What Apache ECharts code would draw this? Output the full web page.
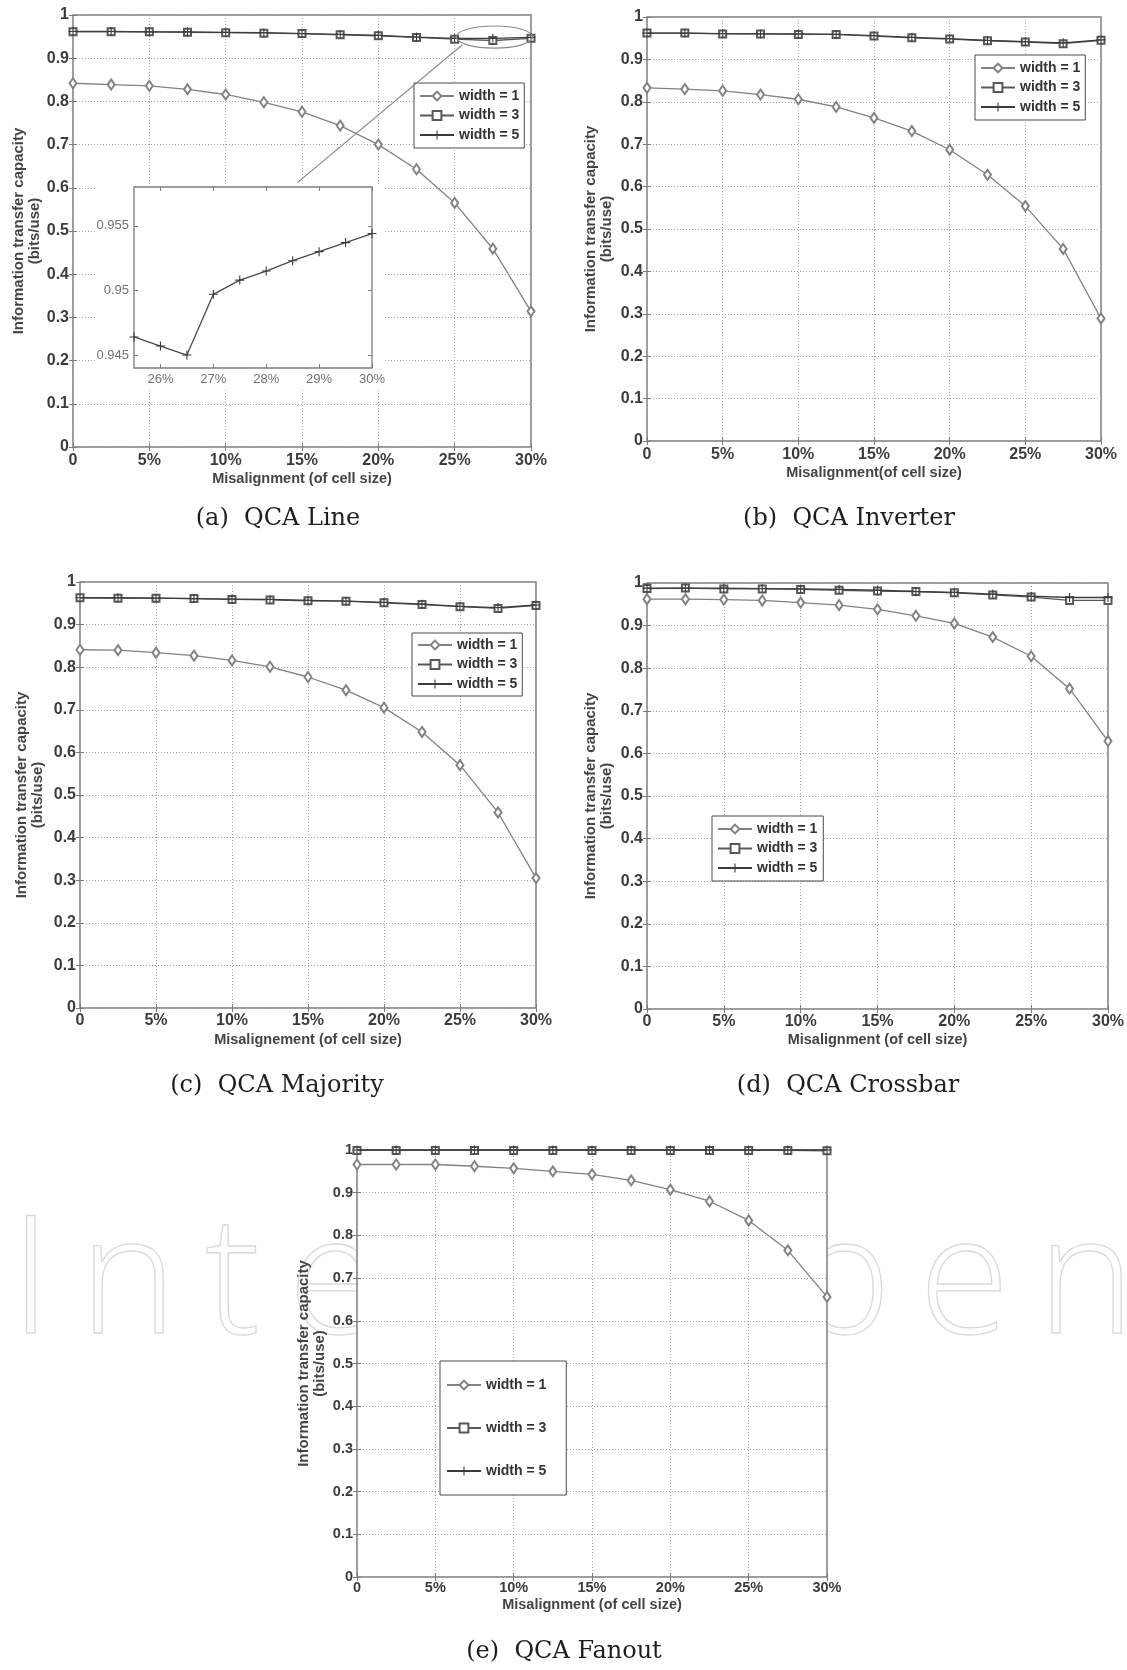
<!DOCTYPE html>
<html>
<head>
<meta charset="utf-8">
<title>QCA information transfer capacity vs misalignment</title>
<script src="https://cdn.jsdelivr.net/npm/echarts@6.0.0/dist/echarts.min.js"></script>
<style>
html,body{margin:0;padding:0;background:#fff;}
#chart{width:1127px;height:1670px;}
</style>
</head>
<body>
<div id="chart"></div>
<script>
// ---------------- data ----------------
const misalignment = [0, 2.5, 5, 7.5, 10, 12.5, 15, 17.5, 20, 22.5, 25, 27.5, 30];
const xTickValues = [0, 5, 10, 15, 20, 25, 30];
const seriesNames = ['width = 1', 'width = 3', 'width = 5'];

// (a) QCA Line
const lineW1 = [0.842, 0.839, 0.836, 0.828, 0.816, 0.798, 0.776, 0.744, 0.700, 0.643, 0.565, 0.459, 0.314];
const lineW3 = [0.961, 0.961, 0.961, 0.960, 0.959, 0.958, 0.957, 0.954, 0.952, 0.948, 0.944, 0.941, 0.946];
const lineW5 = [0.962, 0.962, 0.961, 0.961, 0.960, 0.959, 0.957, 0.955, 0.953, 0.949, 0.946, 0.946, 0.948];
// (b) QCA Inverter
const inverterW1 = [0.833, 0.830, 0.826, 0.817, 0.806, 0.788, 0.762, 0.731, 0.687, 0.628, 0.554, 0.453, 0.289];
const inverterW3 = [0.962, 0.962, 0.960, 0.960, 0.959, 0.959, 0.955, 0.951, 0.948, 0.944, 0.941, 0.937, 0.945];
const inverterW5 = [0.962, 0.962, 0.961, 0.960, 0.960, 0.959, 0.956, 0.952, 0.949, 0.945, 0.942, 0.939, 0.946];
// (c) QCA Majority
const majorityW1 = [0.841, 0.840, 0.834, 0.827, 0.816, 0.801, 0.777, 0.746, 0.705, 0.648, 0.570, 0.459, 0.305];
const majorityW3 = [0.963, 0.962, 0.962, 0.961, 0.959, 0.958, 0.956, 0.955, 0.951, 0.947, 0.942, 0.938, 0.945];
const majorityW5 = [0.963, 0.963, 0.962, 0.961, 0.960, 0.959, 0.957, 0.955, 0.952, 0.948, 0.943, 0.940, 0.946];
// (d) QCA Crossbar
const crossbarW1 = [0.962, 0.962, 0.961, 0.959, 0.954, 0.948, 0.938, 0.923, 0.905, 0.873, 0.828, 0.752, 0.629];
const crossbarW3 = [0.987, 0.988, 0.986, 0.986, 0.985, 0.983, 0.981, 0.980, 0.977, 0.972, 0.967, 0.959, 0.959];
const crossbarW5 = [0.988, 0.988, 0.988, 0.987, 0.986, 0.985, 0.983, 0.980, 0.978, 0.974, 0.969, 0.966, 0.966];
// (e) QCA Fanout
const fanoutW1 = [0.966, 0.966, 0.966, 0.962, 0.957, 0.950, 0.943, 0.929, 0.907, 0.880, 0.835, 0.765, 0.656];
const fanoutW3 = [0.999, 0.999, 0.999, 0.999, 0.999, 0.999, 0.999, 0.999, 0.999, 0.999, 0.999, 0.999, 0.998];
const fanoutW5 = [1.000, 1.000, 1.000, 1.000, 1.000, 1.000, 1.000, 1.000, 1.000, 1.000, 1.000, 1.000, 1.000];

// inset of (a): zoom on width = 5 between 25.5% and 30%
const insetMisalignment = [25.5, 26, 26.5, 27, 27.5, 28, 28.5, 29, 29.5, 30];
const insetW5 = [0.9464, 0.9457, 0.9450, 0.9497, 0.9508, 0.9515, 0.9523, 0.9530, 0.9537, 0.9544];
const insetXTicks = [26, 27, 28, 29, 30];
const insetYTicks = [0.945, 0.95, 0.955];

const captions = ['(a)  QCA Line', '(b)  QCA Inverter', '(c)  QCA Majority', '(d)  QCA Crossbar', '(e)  QCA Fanout'];
const xTitles = ['Misalignment (of cell size)', 'Misalignment(of cell size)', 'Misalignement (of cell size)',
                 'Misalignment (of cell size)', 'Misalignment (of cell size)'];
const yTitle = 'Information transfer capacity\n(bits/use)';

// ---------------- styling / layout ----------------
const FONT = '"Liberation Sans", Arial, Helvetica, sans-serif';
const FRAME = '#7c7c7c';
const GRIDC = '#a6a6a6';
const LABELC = '#3c3c3c';
const seriesColors = ['#828282', '#585858', '#3c3c3c'];
const plusPath = 'path://M4.4,0H5.6V4.4H10V5.6H5.6V10H4.4V5.6H0V4.4H4.4Z';
const seriesSymbols = ['emptyDiamond', 'emptyRect', plusPath];
const seriesSymbolSizes = [[7, 10], 7, 9];

const panels = [
  { values: [lineW1, lineW3, lineW5], rect: {left: 73, top: 15, width: 458, height: 432},
    tick: 16, labelMargin: 6, xGap: 24, yGap: 29,
    legend: {left: 414, top: 83, padding: [6, 5, 6, 5], itemGap: 5.5}, caption: [278, 519] },
  { values: [inverterW1, inverterW3, inverterW5], rect: {left: 647, top: 17, width: 454, height: 424},
    tick: 16, labelMargin: 6, xGap: 24, yGap: 32,
    legend: {left: 975, top: 55, padding: [6, 5, 6, 5], itemGap: 5.5}, caption: [849, 519] },
  { values: [majorityW1, majorityW3, majorityW5], rect: {left: 80, top: 582, width: 456, height: 426},
    tick: 16, labelMargin: 5, xGap: 24, yGap: 34,
    legend: {left: 412, top: 633, padding: [5, 5, 5, 5], itemGap: 5.5}, caption: [277, 1086] },
  { values: [crossbarW1, crossbarW3, crossbarW5], rect: {left: 647, top: 583, width: 461, height: 426},
    tick: 16, labelMargin: 5, xGap: 23, yGap: 32,
    legend: {left: 712, top: 816, padding: [6, 6, 6, 5], itemGap: 5.5}, caption: [848, 1086] },
  { values: [fanoutW1, fanoutW3, fanoutW5], rect: {left: 357, top: 1150, width: 470, height: 427},
    tick: 14.5, labelMargin: 3, xGap: 20, yGap: 29,
    legend: {left: 440, top: 1361, padding: [17, 20, 17, 6], itemGap: 29}, caption: [564, 1652] }
];
const insetRect = {left: 134, top: 187, width: 238, height: 181};

// ---------------- build option ----------------
const grids = [], xAxes = [], yAxes = [], series = [], legends = [], graphics = [];

function tickStyle() {
  return {show: true, inside: true, length: 4, lineStyle: {color: FRAME, width: 1}};
}

panels.forEach((p, i) => {
  grids.push(Object.assign({show: true, backgroundColor: '#ffffff', borderColor: FRAME, borderWidth: 1.5}, p.rect));
  xAxes.push({
    gridIndex: i, type: 'value', position: 'bottom', min: 0, max: 30, interval: 5,
    axisLine: {show: false}, axisTick: tickStyle(),
    axisLabel: {margin: p.labelMargin, fontSize: p.tick, fontWeight: 'bold', color: LABELC, fontFamily: FONT,
                formatter: v => (v === 0 ? '0' : v + '%')},
    splitLine: {show: true, lineStyle: {color: GRIDC, width: 1, type: [1, 2]}},
    name: xTitles[i], nameLocation: 'middle', nameGap: p.xGap,
    nameTextStyle: {fontSize: 14.5, fontWeight: 'bold', color: '#444', fontFamily: FONT, verticalAlign: 'top'}
  });
  xAxes.push({
    gridIndex: i, type: 'value', position: 'top', min: 0, max: 30, interval: 5,
    axisLine: {show: false}, axisTick: tickStyle(), axisLabel: {show: false}, splitLine: {show: false}
  });
  yAxes.push({
    gridIndex: i, type: 'value', position: 'left', min: 0, max: 1, interval: 0.1,
    axisLine: {show: false}, axisTick: tickStyle(),
    axisLabel: {margin: 4, fontSize: p.tick, fontWeight: 'bold', color: LABELC, fontFamily: FONT},
    splitLine: {show: true, lineStyle: {color: GRIDC, width: 1, type: [1, 2]}},
    name: yTitle, nameLocation: 'middle', nameGap: p.yGap, nameRotate: 90,
    nameTextStyle: {fontSize: 15, fontWeight: 'bold', lineHeight: 16, color: '#444', fontFamily: FONT, align: 'center'}
  });
  yAxes.push({
    gridIndex: i, type: 'value', position: 'right', min: 0, max: 1, interval: 0.1,
    axisLine: {show: false}, axisTick: tickStyle(), axisLabel: {show: false}, splitLine: {show: false}
  });
  p.values.forEach((vals, j) => {
    series.push({
      type: 'line', name: seriesNames[j], xAxisIndex: 2 * i, yAxisIndex: 2 * i,
      data: misalignment.map((x, k) => [x, vals[k]]),
      symbol: seriesSymbols[j], symbolSize: seriesSymbolSizes[j], showSymbol: true,
      lineStyle: {color: seriesColors[j], width: 1.3},
      itemStyle: {color: seriesColors[j], borderColor: seriesColors[j], borderWidth: j === 2 ? 0 : 1.2},
      z: 2 + j, silent: true, animation: false, clip: false
    });
  });
  legends.push(Object.assign({
    show: true, data: seriesNames, orient: 'vertical', itemWidth: 34, itemHeight: 11,
    backgroundColor: '#ffffff', borderColor: '#4a4a4a', borderWidth: 1, borderRadius: 0,
    textStyle: {fontSize: 14, fontWeight: 'bold', color: '#333', fontFamily: FONT}, selectedMode: false, z: 6
  }, p.legend));
  graphics.push({
    type: 'text', x: p.caption[0], y: p.caption[1], z: 20,
    style: {text: captions[i], fill: '#1e1e1e', font: '24px "DejaVu Serif", serif',
            textAlign: 'center', textVerticalAlign: 'middle'}
  });
});

// inset axes (grid index 5)
grids.push(Object.assign({show: true, backgroundColor: '#ffffff', borderColor: FRAME, borderWidth: 1.3, z: 10}, insetRect));
const insetLabel = {fontSize: 13, color: '#727272', fontFamily: FONT};
xAxes.push({
  gridIndex: 5, type: 'value', position: 'bottom', min: 25.5, max: 30, z: 11,
  axisLine: {show: false},
  axisTick: {show: true, inside: true, length: 4, customValues: insetXTicks, lineStyle: {color: FRAME}},
  axisLabel: Object.assign({margin: 5, customValues: insetXTicks, formatter: v => v + '%'}, insetLabel),
  splitLine: {show: false}
});
xAxes.push({
  gridIndex: 5, type: 'value', position: 'top', min: 25.5, max: 30, z: 11,
  axisLine: {show: false},
  axisTick: {show: true, inside: true, length: 4, customValues: insetXTicks, lineStyle: {color: FRAME}},
  axisLabel: {show: false}, splitLine: {show: false}
});
yAxes.push({
  gridIndex: 5, type: 'value', position: 'left', min: 0.944, max: 0.958, z: 11,
  axisLine: {show: false},
  axisTick: {show: true, inside: true, length: 4, customValues: insetYTicks, lineStyle: {color: FRAME}},
  axisLabel: Object.assign({margin: 5, customValues: insetYTicks, formatter: v => String(+v.toFixed(3))}, insetLabel),
  splitLine: {show: false}
});
yAxes.push({
  gridIndex: 5, type: 'value', position: 'right', min: 0.944, max: 0.958, z: 11,
  axisLine: {show: false},
  axisTick: {show: true, inside: true, length: 4, customValues: insetYTicks, lineStyle: {color: FRAME}},
  axisLabel: {show: false}, splitLine: {show: false}
});
series.push({
  type: 'line', name: 'width = 5 (zoom)', xAxisIndex: 10, yAxisIndex: 10,
  data: insetMisalignment.map((x, k) => [x, insetW5[k]]),
  symbol: plusPath, symbolSize: 9, showSymbol: true,
  lineStyle: {color: '#4a4a4a', width: 1.3}, itemStyle: {color: '#3a3a3a', borderWidth: 0},
  z: 12, silent: true, animation: false
});

// white backing of the inset (covers the main grid under the inset and its labels)
graphics.push({
  type: 'rect', z: 9, silent: true,
  shape: {x: insetRect.left - 39, y: insetRect.top - 2, width: insetRect.width + 51, height: insetRect.height + 22},
  style: {fill: '#ffffff'}
});

// faint "IntechOpen" watermark (behind the plots, mostly hidden by panel (e))
(function addWatermark() {
  const font = '300 165px "Open Sans", sans-serif';
  const ctx = document.createElement('canvas').getContext('2d');
  ctx.font = font;
  const word = 'IntechOpen';
  const spacing = 28;
  let x = 10;
  for (const ch of word) {
    graphics.push({
      type: 'text', x: x, y: 1203, z: -10, silent: true,
      style: {text: ch, font: font, fill: 'rgba(0,0,0,0)', stroke: '#d9d9d9', lineWidth: 1.3,
              textVerticalAlign: 'top'}
    });
    x += ctx.measureText(ch).width + spacing;
  }
})();

const chart = echarts.init(document.getElementById('chart'), null, {renderer: 'canvas', width: 1127, height: 1670});
chart.setOption({
  backgroundColor: '#ffffff',
  animation: false,
  textStyle: {fontFamily: FONT},
  grid: grids, xAxis: xAxes, yAxis: yAxes, series: series, legend: legends,
  graphic: {elements: graphics}
});

// zoom annotation in (a): ellipse around the end of the curves and connector to the inset
(function addZoomMarks() {
  const toPx = v => chart.convertToPixel({xAxisIndex: 0, yAxisIndex: 0}, v);
  const c = toPx([27.6, 0.949]);
  const e = toPx([30.1, 0.9235]);
  const a = toPx([25.5, 0.931]);
  const b = toPx([14.7, 0.612]);
  chart.setOption({
    graphic: {elements: graphics.concat([
      {type: 'ellipse', z: 9, silent: true, shape: {cx: c[0], cy: c[1], rx: e[0] - c[0], ry: e[1] - c[1]},
       style: {fill: 'none', stroke: '#8a8a8a', lineWidth: 1.2}},
      {type: 'line', z: 9, silent: true, shape: {x1: a[0], y1: a[1], x2: b[0], y2: b[1]},
       style: {stroke: '#8a8a8a', lineWidth: 1.2}}
    ])}
  });
})();
</script>
</body>
</html>
